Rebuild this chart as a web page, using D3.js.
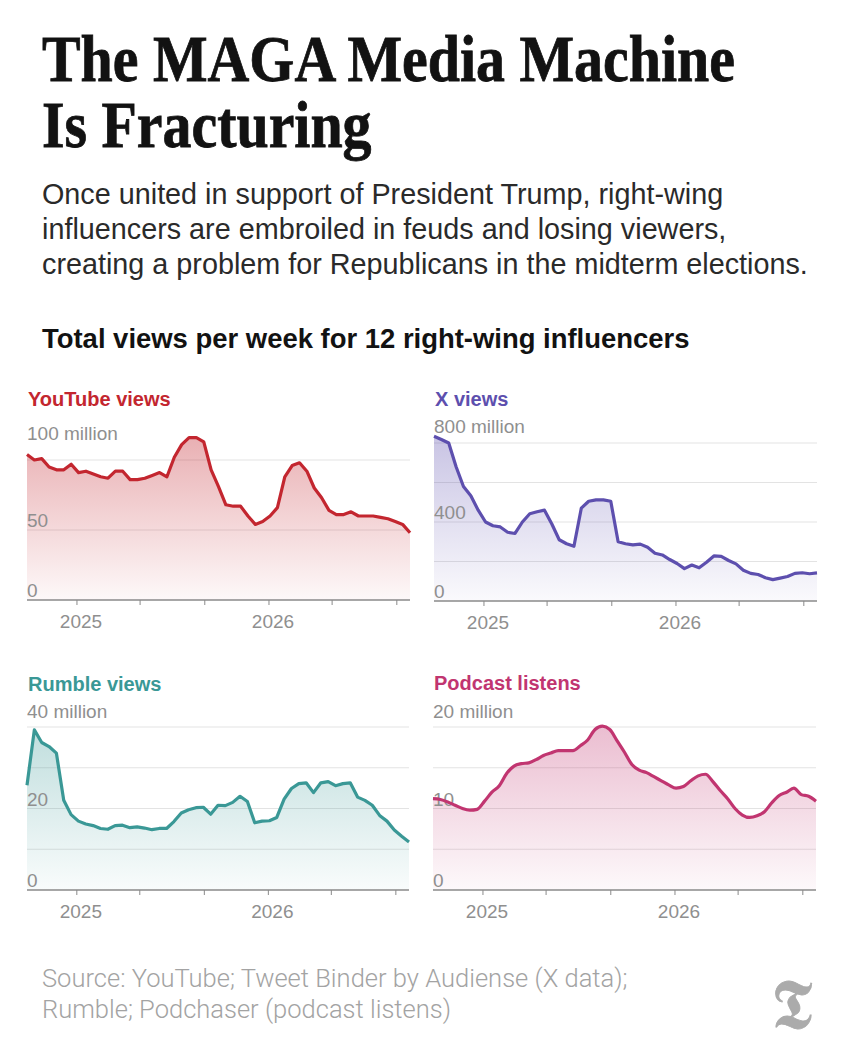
<!DOCTYPE html>
<html>
<head>
<meta charset="utf-8">
<script src="https://cdn.jsdelivr.net/npm/d3@7"></script>
<style>
  body { margin: 0; background: #fff; }
  svg { display: block; }
</style>
</head>
<body>
<svg width="852" height="1049"></svg>
<script>
// weekly totals, sampled every two weeks
const startDate = new Date(2024, 8, 29);
const stepDays = 14;

const youtube = [104, 100, 101, 95, 93, 93, 97, 91, 92, 90, 88, 87, 92, 92, 86, 86, 87, 89, 91, 88,
  102, 111, 116, 116, 113, 93, 81, 68, 67, 67, 60, 54, 56, 60, 66, 88, 96, 98, 92, 80,
  73, 64, 61, 61, 63, 60, 60, 60, 59, 58, 56, 54, 48];
const xviews = [834, 818, 800, 680, 580, 533, 460, 400, 381, 375, 348, 342, 400, 442, 452, 460, 390, 310, 290, 277,
  470, 505, 512, 512, 505, 300, 290, 284, 288, 272, 242, 233, 210, 190, 164, 182, 168, 196, 228, 226,
  205, 188, 156, 140, 134, 118, 108, 116, 124, 140, 143, 138, 142];
const rumble = [25.7, 39.3, 36.2, 35.2, 33.6, 22, 18.5, 16.9, 16.2, 15.8, 15.1, 14.9, 15.8, 15.9, 15.3, 15.5, 15.2, 14.8, 15.1, 15.1,
  16.8, 18.9, 19.7, 20.2, 20.3, 18.6, 20.8, 20.7, 21.5, 23.0, 21.7, 16.5, 16.9, 17.0, 17.8, 22.3, 24.9, 26.1, 26.3, 23.9,
  26.3, 26.6, 25.6, 26.1, 26.3, 22.8, 22.0, 20.8, 18.3, 16.9, 14.7, 13.2, 11.8];
const podcast = [11.2, 11.1, 10.8, 10.4, 10.0, 9.8, 9.9, 10.9, 12.0, 12.8, 14.3, 15.2, 15.5, 15.6, 16.0, 16.5, 16.8, 17.1, 17.1, 17.1,
  17.7, 18.4, 19.7, 20.1, 19.7, 18.3, 16.9, 15.4, 14.7, 14.4, 13.9, 13.4, 12.9, 12.5, 12.7, 13.4, 14.0, 14.2, 13.3, 12.2,
  11.2, 10.0, 9.2, 8.9, 9.1, 9.6, 10.7, 11.6, 12.0, 12.5, 11.7, 11.5, 10.9];

const panelTitles = ['YouTube views', 'X views', 'Rumble views', 'Podcast listens'];
const gridValues = [[50, 100], [200, 400, 600, 800], [10, 20, 30, 40], [5, 10, 15, 20]];
const labelValues = [[0, 50, 100], [0, 400, 800], [0, 20, 40], [0, 10, 20]];
const xTicks = [new Date(2025, 0, 1), new Date(2025, 4, 1), new Date(2025, 8, 1),
  new Date(2026, 0, 1), new Date(2026, 4, 1), new Date(2026, 8, 1)];

const dates = youtube.map((_, i) => d3.timeDay.offset(startDate, i * stepDays));

const svg = d3.select('svg');
const sans = 'Liberation Sans, Arial, sans-serif';

// fit a text element to a width by changing font size
function fitSize(sel, width) {
  const fs = parseFloat(sel.attr('font-size'));
  const w = sel.node().getComputedTextLength();
  sel.attr('font-size', fs * width / w);
  return fs * width / w;
}

// title, condensed horizontally to look like Cheltenham
const titleG = svg.append('g').attr('transform', 'translate(42,0)');
const t1 = titleG.append('text').attr('x', 0).attr('y', 81)
  .attr('font-family', 'Liberation Serif, serif').attr('font-weight', 700)
  .attr('font-size', 66).attr('fill', '#121212').attr('stroke', '#121212').attr('stroke-width', 0.8)
  .text('The MAGA Media Machine');
const t2 = titleG.append('text').attr('x', 0).attr('y', 147)
  .attr('font-family', 'Liberation Serif, serif').attr('font-weight', 700)
  .attr('font-size', 66).attr('fill', '#121212').attr('stroke', '#121212').attr('stroke-width', 0.8)
  .text('Is Fracturing');
const sx = 693 / t1.node().getComputedTextLength();
titleG.attr('transform', `translate(42,0) scale(${sx},1)`);

const subLines = ['Once united in support of President Trump, right-wing',
  'influencers are embroiled in feuds and losing viewers,',
  'creating a problem for Republicans in the midterm elections.'];
const subs = svg.selectAll('.sub').data(subLines).enter().append('text')
  .attr('class', 'sub').attr('x', 42).attr('y', (d, i) => 204 + i * 35)
  .attr('font-family', sans).attr('font-size', 25).attr('fill', '#2a2a2a').text(d => d);
const subSize = fitSize(d3.select(subs.nodes()[2]), 766);
subs.attr('font-size', subSize);

const head = svg.append('text').attr('x', 42).attr('y', 348)
  .attr('font-family', sans).attr('font-weight', 700).attr('font-size', 22)
  .attr('fill', '#121212').text('Total views per week for 12 right-wing influencers');
fitSize(head, 648);

const layout = [
  { x0: 27, x1: 410, base: 600, top: 460, titleY: 406, topLabelY: 440, color: '#c3262f' },
  { x0: 434, x1: 817, base: 601, top: 443, titleY: 406, topLabelY: 433, color: '#5d4fae' },
  { x0: 27, x1: 409, base: 890, top: 727, titleY: 691, topLabelY: 718, color: '#3a9896' },
  { x0: 433, x1: 816, base: 890, top: 727, titleY: 690, topLabelY: 718, color: '#c13570' }
];
const series = [youtube, xviews, rumble, podcast];
const curves = [d3.curveLinear, d3.curveLinear, d3.curveLinear, d3.curveMonotoneX];

const defs = svg.append('defs');

series.forEach((vals, k) => {
  const L = layout[k];
  const x = d3.scaleTime().domain([dates[0], dates[dates.length - 1]]).range([L.x0, L.x1]);
  const topVal = gridValues[k][gridValues[k].length - 1];
  const y = d3.scaleLinear().domain([0, topVal]).range([L.base, L.top]);
  const g = svg.append('g');

  g.append('text').attr('x', L.x0 + 1).attr('y', L.titleY)
    .attr('font-family', sans).attr('font-weight', 700).attr('font-size', 20)
    .attr('fill', L.color).text(panelTitles[k]);

  const grad = defs.append('linearGradient').attr('id', 'grad' + k)
    .attr('gradientUnits', 'userSpaceOnUse')
    .attr('x1', 0).attr('x2', 0).attr('y1', L.top - 20).attr('y2', L.base);
  grad.append('stop').attr('offset', '0%').attr('stop-color', L.color).attr('stop-opacity', 0.36);
  grad.append('stop').attr('offset', '100%').attr('stop-color', L.color).attr('stop-opacity', 0.03);

  g.selectAll('.grid').data(gridValues[k]).enter().append('line')
    .attr('x1', L.x0).attr('x2', L.x1)
    .attr('y1', d => y(d)).attr('y2', d => y(d))
    .attr('stroke', '#e3e3e3').attr('stroke-width', 1);

  const area = d3.area().x((d, i) => x(dates[i])).y0(L.base).y1(d => y(d)).curve(curves[k]);
  g.append('path').datum(vals).attr('d', area).attr('fill', `url(#grad${k})`);

  g.selectAll('.ylab').data(labelValues[k]).enter().append('text')
    .attr('x', L.x0)
    .attr('y', (d, i) => i === 2 ? L.topLabelY : y(d) - 3)
    .attr('font-family', sans).attr('font-size', 19).attr('fill', '#8f8f8f')
    .text((d, i) => i === 2 ? d + ' million' : d);

  const line = d3.line().x((d, i) => x(dates[i])).y(d => y(d)).curve(curves[k]);
  g.append('path').datum(vals).attr('d', line).attr('fill', 'none')
    .attr('stroke', L.color).attr('stroke-width', 3.2).attr('stroke-linejoin', 'round');

  const axis = d3.axisBottom(x).tickValues(xTicks).tickSize(5)
    .tickFormat(d => d.getMonth() === 0 ? d3.timeFormat('%Y')(d) : '');
  const ax = g.append('g').attr('transform', `translate(0,${L.base})`).call(axis);
  ax.select('.domain').attr('stroke', '#8a8a8a').attr('stroke-width', 1.5)
    .attr('d', `M${L.x0},0H${L.x1}`);
  ax.selectAll('.tick line').attr('stroke', '#8a8a8a');
  ax.selectAll('.tick text').attr('font-family', sans).attr('font-size', 19)
    .attr('fill', '#8f8f8f').attr('dy', '1.05em').attr('dx', 4);
});

const srcLines = ['Source: YouTube; Tweet Binder by Audiense (X data);',
  'Rumble; Podchaser (podcast listens)'];
const src = svg.selectAll('.src').data(srcLines).enter().append('text')
  .attr('class', 'src').attr('x', 42).attr('y', (d, i) => 987 + i * 31)
  .attr('font-family', 'Roboto, sans-serif').attr('font-weight', 300)
  .attr('font-size', 20).attr('fill', '#a3a3a3').text(d => d);
const srcSize = fitSize(d3.select(src.nodes()[0]), 586);
src.attr('font-size', srcSize);

// NYT mark
svg.append('text').attr('x', 792).attr('y', 1028).attr('text-anchor', 'middle')
  .attr('font-family', 'DejaVu Serif, DejaVu Sans, serif')
  .attr('font-size', 68).attr('fill', '#ababab').attr('stroke', '#ababab').attr('stroke-width', 0.8)
  .text('\u{1D57F}');
</script>
</body>
</html>
